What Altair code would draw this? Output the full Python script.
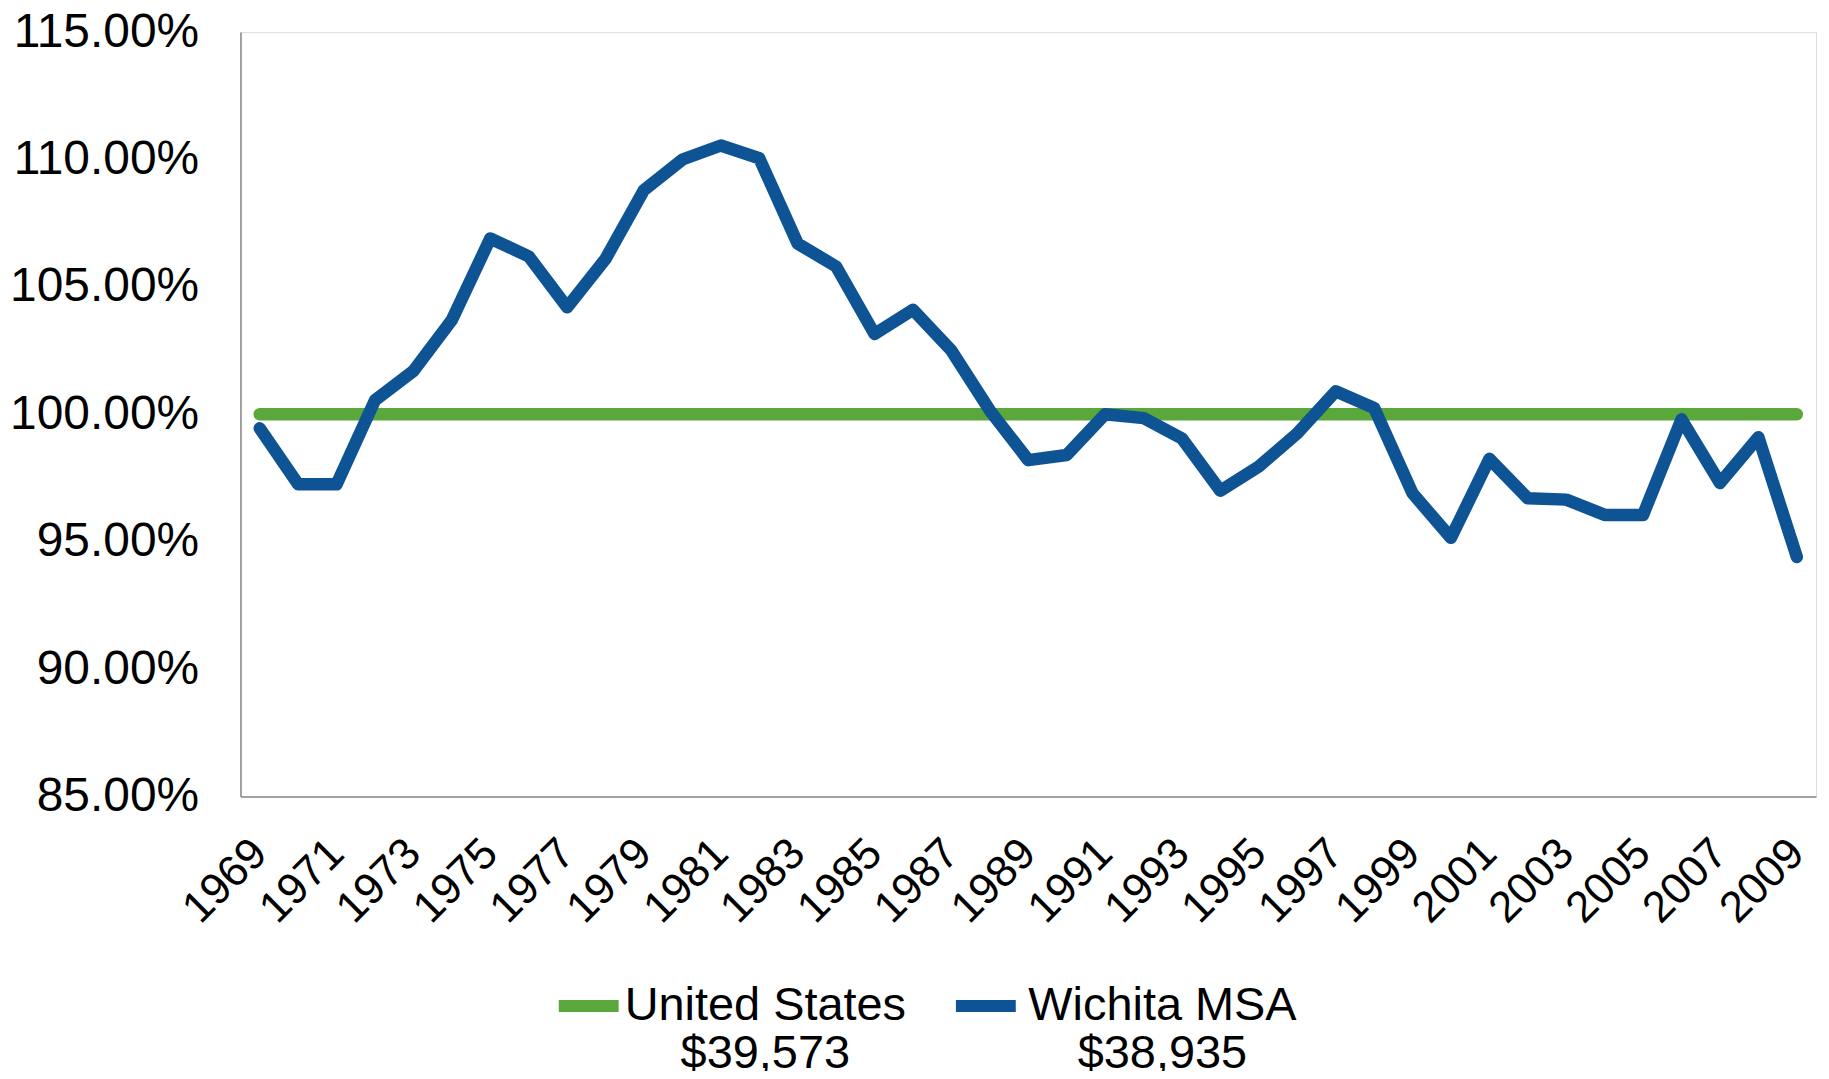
import altair as alt
import pandas as pd

years = list(range(1969, 2010))
series_names = ["United States", "Wichita MSA"]
series_incomes = ["$39,573", "$38,935"]
series_colors = ["#5aa83c", "#0e5495"]

us_values = [100.0] * 41
wichita_values = [
    99.45, 97.25, 97.25, 100.55, 101.7, 103.7, 106.9, 106.2, 104.2, 106.1,
    108.8, 110.0, 110.55, 110.05, 106.7, 105.8, 103.15, 104.1, 102.5, 100.15,
    98.2, 98.4, 100.0, 99.85, 99.05, 97.0, 97.95, 99.25, 100.9, 100.25,
    96.9, 95.15, 98.25, 96.7, 96.65, 96.05, 96.05, 99.8, 97.3, 99.1, 94.4,
]
y_ticks = [85, 90, 95, 100, 105, 110, 115]
x_labels = [str(y) for y in years if y % 2 == 1]

rows = []
for name, vals in zip(series_names, [us_values, wichita_values]):
    for yr, v in zip(years, vals):
        rows.append({"year": str(yr), "value": v, "series": name})
df = pd.DataFrame(rows)

label_expr = " : ".join(
    f"datum.label == '{n}' ? ['{n}', '{inc}']" for n, inc in zip(series_names, series_incomes)
) + " : datum.label"

FONT = "Liberation Sans"

chart = alt.Chart(df).mark_line(
    strokeWidth=12.5, strokeCap="round", strokeJoin="round"
).encode(
    x=alt.X(
        "year:O",
        title=None,
        sort=None,
        axis=alt.Axis(
            values=x_labels,
            labelAngle=-45,
            labelAlign="right",
            labelBaseline="middle",
            labelPadding=50,
            labelOffset=0,
            labelFontSize=44,
            labelFont=FONT,
            labelColor="#000000",
            labelLimit=0,
            ticks=False,
            domainColor="#888888",
            domainWidth=1.5,
            grid=False,
            labelOverlap=False,
        ),
    ),
    y=alt.Y(
        "value:Q",
        title=None,
        scale=alt.Scale(domain=[85, 115], nice=False, zero=False),
        axis=alt.Axis(
            values=y_ticks,
            labelExpr="format(datum.value, '.2f') + '%'",
            labelFontSize=48,
            labelFont=FONT,
            labelColor="#000000",
            labelLimit=0,
            labelPadding=42,
            ticks=False,
            domainColor="#888888",
            domainWidth=1.5,
            grid=False,
        ),
    ),
    color=alt.Color(
        "series:N",
        scale=alt.Scale(domain=series_names, range=series_colors),
        legend=alt.Legend(
            title=None,
            orient="none",
            direction="horizontal",
            legendX=313,
            legendY=940,
            symbolType="M -1 0 L 1 0",
            symbolSize=3600,
            symbolStrokeWidth=12,
            labelExpr=label_expr,
            labelAlign="center",
            labelBaseline="middle",
            labelOffset=141,
            labelFontSize=47,
            labelFont=FONT,
            labelColor="#000000",
            labelLimit=0,
            columnPadding=25,
            padding=0,
        ),
    ),
).properties(
    width=1579,
    height=766,
    autosize="none",
    padding={"left": 233, "top": 23, "right": 5, "bottom": 274},
).configure_view(stroke=None).configure(
    style={"guide-label": {"lineHeight": 48}}
)

chart.save("out.html", embed_options={"renderer": "svg", "actions": False})
